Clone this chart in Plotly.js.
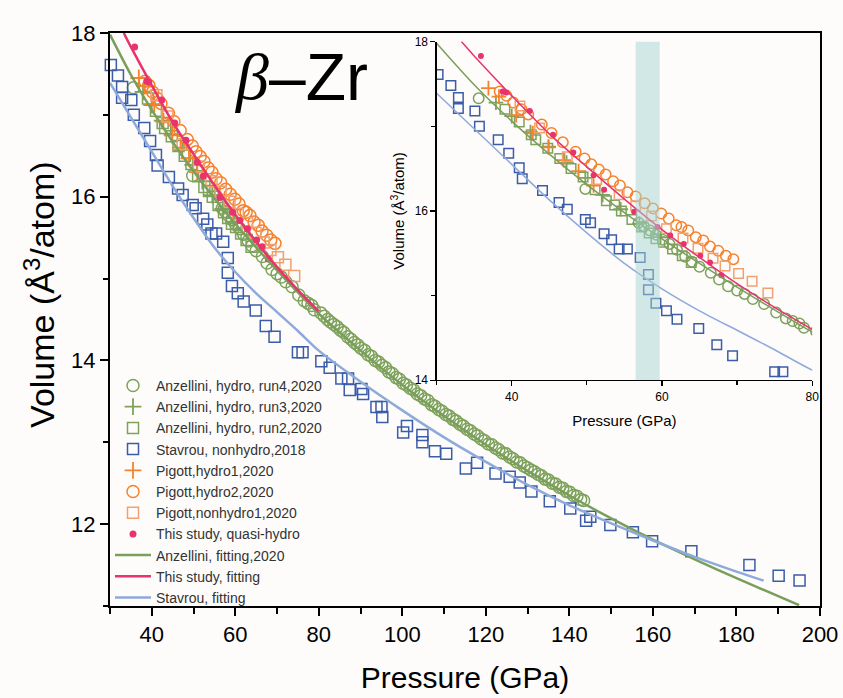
<!DOCTYPE html>
<html>
<head>
<meta charset="utf-8">
<script src="https://cdn.plot.ly/plotly-3.0.1.min.js"></script>
<style>html,body{margin:0;padding:0;background:#fdfcfb;}</style>
</head>
<body>
<div id="chart" style="width:843px;height:698px;"></div>
<script>
// ---- Data: [pressure GPa, volume Å^3/atom] ----
const anzRun4 = [[35.6,17.33],[49.8,16.26],[56.9,15.86],[57.6,15.82],[58.4,15.77],[59.2,15.72],[60.1,15.66],[61.0,15.61],[62.0,15.54],[63.1,15.46],[64.0,15.40],[65.0,15.34],[66.5,15.27],[67.6,15.19],[68.8,15.11],[70.0,15.06],[71.0,15.02],[72.1,14.96],[73.6,14.90],[75.2,14.80],[76.5,14.73],[77.4,14.70],[78.3,14.67],[78.9,14.62],
[80.5,14.58],[81.3,14.54],[82.1,14.50],[82.8,14.47],[83.6,14.44],[84.4,14.41],[85.2,14.37],[86.0,14.34],[86.9,14.29],[87.7,14.26],[88.5,14.22],[89.3,14.19],[90.1,14.15],[91.0,14.12],[91.8,14.07],[92.6,14.05],[93.5,14.00],[94.3,13.98],[95.1,13.94],[96.0,13.91],[96.8,13.86],[97.6,13.84],[98.5,13.79],[99.3,13.77],[100.2,13.72],[101.0,13.70],[101.9,13.66],[102.7,13.64],[103.6,13.59],[104.4,13.57],[105.3,13.53],[106.1,13.51],[107.0,13.46],[107.8,13.44],[108.7,13.40],[109.5,13.38],[110.4,13.34],[111.2,13.32],[112.1,13.28],[112.9,13.26],[113.8,13.22],[114.6,13.20],[115.5,13.16],[116.3,13.14],[117.2,13.10],[118.0,13.08],[118.9,13.04],[119.7,13.02],[120.6,12.98],[121.4,12.97],[122.3,12.93],[123.1,12.91],[124.0,12.87],[124.8,12.86],[125.7,12.82],[126.5,12.80],[127.4,12.76],[128.2,12.75],[129.1,12.71],[129.9,12.69],[130.8,12.66],[131.6,12.64],[132.5,12.61],[133.3,12.59],[134.2,12.55],[135.0,12.54],[135.9,12.50],[136.7,12.49],[137.6,12.45],[138.4,12.44],[139.3,12.40],[140.1,12.39],[141.0,12.35],[141.8,12.34],[142.7,12.30],[143.4,12.29]];
const anzRun3 = [[37.9,17.28],[40.0,17.12],[42.5,16.93],[44.9,16.76],[47.3,16.57],[49.8,16.39],[52.1,16.19],[54.5,16.02],[57.0,15.85],[59.5,15.69]];
const anzRun2 = [[39.1,17.20],[41.0,17.05],[42.6,16.90],[43.2,16.84],[44.8,16.74],[46.4,16.62],[47.9,16.50],[49.5,16.40],[51.1,16.25],[52.6,16.12],[53.7,16.07],[54.6,16.00],[56.0,15.90],[57.3,15.81],[58.3,15.74],[59.2,15.67],[60.2,15.63],[61.4,15.55],[62.7,15.47],[63.9,15.39]];
const stavrou = [[30.2,17.61],[31.9,17.48],[32.9,17.34],[32.9,17.21],[35.1,17.18],[35.7,17.00],[38.2,16.84],[39.6,16.68],[41.0,16.51],[41.4,16.38],[44.1,16.24],[46.3,16.10],[47.4,16.02],[49.8,15.90],[50.5,15.86],[52.3,15.73],[53.3,15.66],[54.3,15.55],[55.4,15.55],[57.1,15.45],[58.2,15.25],[58.2,15.07],[59.2,14.91],[60.6,14.82],[62.0,14.72],[64.9,14.61],[67.3,14.42],[69.4,14.29],[75.0,14.10],[76.1,14.10],
[80.6,13.99],[82.6,13.91],[85.4,13.78],[87.0,13.78],[87.4,13.64],[90.2,13.65],[90.6,13.59],[93.8,13.43],[95.0,13.43],[95.2,13.31],[100.2,13.12],[101.1,13.20],[104.8,13.09],[104.8,13.00],[107.8,12.89],[110.5,12.86],[115.2,12.68],[117.9,12.75],[122.3,12.62],[125.7,12.58],[128.1,12.51],[130.9,12.40],[135.3,12.28],[140.2,12.19],[144.0,12.04],[145.0,12.09],[149.8,11.99],[155.2,11.90],[159.8,11.79],[169.2,11.67],[183.1,11.50],[190.1,11.37],[195.1,11.31]];
const pigottH1 = [[36.9,17.45],[38.3,17.35],[40.6,17.13],[42.8,16.92],[44.9,16.75],[46.9,16.60],[48.9,16.47],[50.9,16.30]];
const pigottH2 = [[38.4,17.41],[39.3,17.36],[40.2,17.28],[41.3,17.20],[42.2,17.14],[44.0,17.02],[45.3,16.92],[46.8,16.81],[48.5,16.70],[49.7,16.62],[50.6,16.55],[51.6,16.49],[52.5,16.43],[53.5,16.35],[54.4,16.30],[55.4,16.22],[56.5,16.17],[57.7,16.09],[58.8,16.03],[59.9,15.97],[60.9,15.91],[61.9,15.83],[62.6,15.81],[63.5,15.77],[64.5,15.69],[65.5,15.65],[66.4,15.58],[67.5,15.53],[68.5,15.47],[69.5,15.43]];
const pigottNH1 = [[41.1,17.24],[43.7,16.98],[47.4,16.64],[51.3,16.37],[54.3,16.19],[56.5,16.06],[58.6,15.94],[60.6,15.79],[62.8,15.68],[64.8,15.56],[66.8,15.44],[68.4,15.35],[70.2,15.26],[72.0,15.17],[74.1,15.03]];
const thisStudy = [[35.9,17.83],[38.8,17.41],[39.3,17.40],[42.4,17.18],[45.5,16.90],[48.2,16.69],[50.9,16.42],[52.3,16.25],[56.3,15.99],[59.4,15.81],[61.1,15.71],[62.9,15.61],[65.1,15.47],[66.4,15.39],[67.9,15.24]];
const anzFit = [[30,17.98],[35,17.49],[40,17.06],[45,16.67],[50,16.31],[55,15.98],[60,15.67],[65,15.38],[70,15.10],[75,14.83],[80,14.57],[90,14.12],[100,13.70],[110,13.32],[120,12.97],[130,12.65],[140,12.35],[150,12.07],[160,11.81],[170,11.57],[180,11.34],[190,11.12],[195,11.01]];
const thisFit = [[33.3,18.0],[35,17.83],[40,17.36],[45,16.91],[50,16.52],[55,16.14],[60,15.78],[65,15.45],[70,15.14],[75,14.86],[80,14.60]];
const stavFit = [[30,17.39],[35,16.97],[40,16.55],[45,16.13],[50,15.74],[55,15.38],[60,15.08],[65,14.82],[70,14.59],[75,14.36],[80,14.12],[90,13.74],[100,13.39],[110,13.06],[120,12.76],[130,12.48],[140,12.23],[150,12.01],[160,11.80],[170,11.60],[180,11.42],[186.5,11.31]];
const bandRange = [56.5, 59.7];
const mainXTicks = [40,60,80,100,120,140,160,180,200];
const mainYTicks = [12,14,16,18];
const insetXTicks = [40,60,80];
const insetYTicks = [14,16,18];

// ---- styles ----
const GREEN = '#7ea25c', GREENLINE = '#7a9f5a';
const BLUE = '#3b5ca8', BLUELINE = '#8eaadb';
const ORANGE = '#f5822c', SALMON = '#f2a072', PINK = '#e8336e';
const FONT = 'Arial, "Liberation Sans", sans-serif';

const xs = a => a.map(p => p[0]);
const ys = a => a.map(p => p[1]);
const inRange = a => a.filter(p => p[0] >= 30 && p[0] <= 80.5);

const series = [
  {name:'Anzellini, hydro, run4,2020', d:anzRun4, mk:{symbol:'circle-open', color:GREEN}, sz:[12,10.5], lw:1.5},
  {name:'Anzellini, hydro, run3,2020', d:anzRun3, mk:{symbol:'cross-thin-open', color:GREEN}, sz:[12,10.5], lw:1.8},
  {name:'Anzellini, hydro, run2,2020', d:anzRun2, mk:{symbol:'square-open', color:GREEN}, sz:[11,9.5], lw:1.5},
  {name:'Stavrou, nonhydro,2018', d:stavrou, mk:{symbol:'square-open', color:BLUE}, sz:[11,9.5], lw:1.5},
  {name:'Pigott,hydro1,2020', d:pigottH1, mk:{symbol:'cross-thin-open', color:ORANGE}, sz:[12,10.5], lw:1.8},
  {name:'Pigott,hydro2,2020', d:pigottH2, mk:{symbol:'circle-open', color:ORANGE}, sz:[12,10.5], lw:1.5},
  {name:'Pigott,nonhydro1,2020', d:pigottNH1, mk:{symbol:'square-open', color:SALMON}, sz:[11,9.5], lw:1.5},
  {name:'This study, quasi-hydro', d:thisStudy, mk:{symbol:'circle', color:PINK}, sz:[7,6], lw:0}
];
const lines = [
  {name:'Anzellini, fitting,2020', d:anzFit, color:GREENLINE},
  {name:'This study, fitting', d:thisFit, color:PINK},
  {name:'Stavrou, fitting', d:stavFit, color:BLUELINE}
];

const traces = [];
series.forEach(s => {
  traces.push({type:'scatter', mode:'markers', name:s.name, x:xs(s.d), y:ys(s.d), xaxis:'x', yaxis:'y', cliponaxis:false,
    marker:{symbol:s.mk.symbol, color:s.mk.color, size:s.sz[0], line:{color:s.mk.color, width:s.lw}}});
});
lines.forEach(l => {
  traces.push({type:'scatter', mode:'lines', name:l.name, x:xs(l.d), y:ys(l.d), xaxis:'x', yaxis:'y',
    line:{color:l.color, width:2.5, shape:'spline', smoothing:0.8}});
});
series.forEach(s => {
  const d = inRange(s.d);
  traces.push({type:'scatter', mode:'markers', showlegend:false, x:xs(d), y:ys(d), xaxis:'x2', yaxis:'y2',
    marker:{symbol:s.mk.symbol, color:s.mk.color, size:s.sz[1], line:{color:s.mk.color, width:s.lw}}});
});
lines.forEach(l => {
  traces.push({type:'scatter', mode:'lines', showlegend:false, x:xs(l.d), y:ys(l.d), xaxis:'x2', yaxis:'y2',
    line:{color:l.color, width:1.5, shape:'spline', smoothing:0.8}});
});

const axBase = {showgrid:false, zeroline:false, showline:true, linecolor:'#000', ticks:'outside', tickcolor:'#000', tickmode:'array', color:'#000'};

const layout = {
  width:843, height:698,
  paper_bgcolor:'#fdfcfb', plot_bgcolor:'rgba(0,0,0,0)',
  margin:{l:110, r:23, t:33, b:92},
  font:{family:FONT, color:'#000'},
  showlegend:true,
  legend:{x:0.0, y:0.412, xanchor:'left', yanchor:'top', bgcolor:'rgba(0,0,0,0)', itemwidth:36,
    font:{size:14, family:FONT, color:'#333'}, tracegroupgap:0},
  xaxis: Object.assign({}, axBase, {domain:[0,1], range:[30,200], linewidth:2, tickwidth:2, ticklen:8, mirror:true,
    tickvals:mainXTicks, tickfont:{size:22},
    minor:{tickmode:'array', tickvals:[30,50,70,90,110,130,150,170,190], ticks:'outside', ticklen:6, tickwidth:2, tickcolor:'#000'},
    title:{text:'Pressure (GPa)', font:{size:30}, standoff:21}}),
  yaxis: Object.assign({}, axBase, {domain:[0,1], range:[11,18], linewidth:2, tickwidth:2, ticklen:8, mirror:true,
    tickvals:mainYTicks, tickfont:{size:22},
    minor:{tickmode:'array', tickvals:[11,13,15,17], ticks:'outside', ticklen:5, tickwidth:2, tickcolor:'#000'}}),
  xaxis2: Object.assign({}, axBase, {domain:[0.46,0.989], range:[30,80], anchor:'y2', linewidth:1.2, tickwidth:1.2, ticklen:5,
    tickvals:insetXTicks, tickfont:{size:12},
    minor:{tickmode:'array', tickvals:[30,50,70], ticks:'outside', ticklen:4, tickwidth:1.2, tickcolor:'#000'},
    title:{text:'Pressure (GPa)', font:{size:15}, standoff:12}}),
  yaxis2: Object.assign({}, axBase, {domain:[0.394,0.985], range:[14,18], anchor:'x2', linewidth:1.2, tickwidth:1.2, ticklen:5,
    tickvals:insetYTicks, tickfont:{size:12},
    minor:{tickmode:'array', tickvals:[15,17], ticks:'outside', ticklen:4, tickwidth:1.2, tickcolor:'#000'},
    title:{text:'Volume (Å<sup>3</sup>/atom)', font:{size:15}, standoff:6}}),
  shapes:[{type:'rect', xref:'x2', yref:'y2', x0:bandRange[0], x1:bandRange[1], y0:14, y1:18, layer:'above',
    fillcolor:'#a6d3d3', opacity:0.5, line:{width:0}}],
  annotations:[
    {xref:'paper', yref:'paper', x:-0.0985, y:0.543, xanchor:'center', yanchor:'middle', showarrow:false, textangle:-90,
      text:'Volume (Å<sup>3</sup>/atom)', font:{size:34, family:FONT, color:'#000'}},
    {xref:'paper', yref:'paper', x:0.2265, y:0.924, xanchor:'right', yanchor:'middle', showarrow:false,
      text:'<i>β</i>', font:{size:66, family:'"Liberation Serif", "DejaVu Serif", serif', color:'#000'}},
    {xref:'paper', yref:'paper', x:0.2215, y:0.924, xanchor:'left', yanchor:'middle', showarrow:false,
      text:'–Zr', font:{size:66, family:FONT, color:'#000'}}
  ]
};

Plotly.newPlot('chart', traces, layout, {displayModeBar:false, staticPlot:true});
</script>
</body>
</html>
